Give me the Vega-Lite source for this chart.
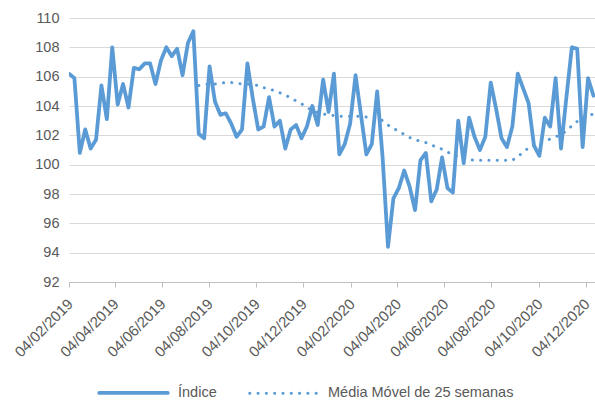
{
  "$schema": "https://vega.github.io/schema/vega-lite/v6.json",
  "autosize": {"type": "none"},
  "width": 526,
  "height": 264,
  "padding": {"left": 69, "top": 18, "right": 0, "bottom": 120},
  "background": "white",
  "config": {
    "font": "Liberation Sans",
    "view": {"stroke": null}
  },
  "data": {"values": [
    {"d":"2019-02-04","s":"Índice","v":106.2},
    {"d":"2019-02-11","s":"Índice","v":105.9},
    {"d":"2019-02-18","s":"Índice","v":100.8},
    {"d":"2019-02-25","s":"Índice","v":102.4},
    {"d":"2019-03-04","s":"Índice","v":101.1},
    {"d":"2019-03-11","s":"Índice","v":101.7},
    {"d":"2019-03-18","s":"Índice","v":105.4},
    {"d":"2019-03-25","s":"Índice","v":103.1},
    {"d":"2019-04-01","s":"Índice","v":108.0},
    {"d":"2019-04-08","s":"Índice","v":104.1},
    {"d":"2019-04-15","s":"Índice","v":105.5},
    {"d":"2019-04-22","s":"Índice","v":103.9},
    {"d":"2019-04-29","s":"Índice","v":106.6},
    {"d":"2019-05-06","s":"Índice","v":106.5},
    {"d":"2019-05-13","s":"Índice","v":106.9},
    {"d":"2019-05-20","s":"Índice","v":106.9},
    {"d":"2019-05-27","s":"Índice","v":105.5},
    {"d":"2019-06-03","s":"Índice","v":107.1},
    {"d":"2019-06-10","s":"Índice","v":108.0},
    {"d":"2019-06-17","s":"Índice","v":107.4},
    {"d":"2019-06-24","s":"Índice","v":107.9},
    {"d":"2019-07-01","s":"Índice","v":106.1},
    {"d":"2019-07-08","s":"Índice","v":108.3},
    {"d":"2019-07-15","s":"Índice","v":109.1},
    {"d":"2019-07-22","s":"Índice","v":102.1},
    {"d":"2019-07-29","s":"Índice","v":101.8},
    {"d":"2019-08-05","s":"Índice","v":106.7},
    {"d":"2019-08-12","s":"Índice","v":104.3},
    {"d":"2019-08-19","s":"Índice","v":103.4},
    {"d":"2019-08-26","s":"Índice","v":103.5},
    {"d":"2019-09-02","s":"Índice","v":102.8},
    {"d":"2019-09-09","s":"Índice","v":101.9},
    {"d":"2019-09-16","s":"Índice","v":102.4},
    {"d":"2019-09-23","s":"Índice","v":106.9},
    {"d":"2019-09-30","s":"Índice","v":104.5},
    {"d":"2019-10-07","s":"Índice","v":102.4},
    {"d":"2019-10-14","s":"Índice","v":102.6},
    {"d":"2019-10-21","s":"Índice","v":104.6},
    {"d":"2019-10-28","s":"Índice","v":102.6},
    {"d":"2019-11-04","s":"Índice","v":103.0},
    {"d":"2019-11-11","s":"Índice","v":101.1},
    {"d":"2019-11-18","s":"Índice","v":102.4},
    {"d":"2019-11-25","s":"Índice","v":102.7},
    {"d":"2019-12-02","s":"Índice","v":101.8},
    {"d":"2019-12-09","s":"Índice","v":102.6},
    {"d":"2019-12-16","s":"Índice","v":104.0},
    {"d":"2019-12-23","s":"Índice","v":102.7},
    {"d":"2019-12-30","s":"Índice","v":105.8},
    {"d":"2020-01-06","s":"Índice","v":103.6},
    {"d":"2020-01-13","s":"Índice","v":106.2},
    {"d":"2020-01-20","s":"Índice","v":100.7},
    {"d":"2020-01-27","s":"Índice","v":101.4},
    {"d":"2020-02-03","s":"Índice","v":102.8},
    {"d":"2020-02-10","s":"Índice","v":106.1},
    {"d":"2020-02-17","s":"Índice","v":103.4},
    {"d":"2020-02-24","s":"Índice","v":100.7},
    {"d":"2020-03-02","s":"Índice","v":101.4},
    {"d":"2020-03-09","s":"Índice","v":105.0},
    {"d":"2020-03-16","s":"Índice","v":100.5},
    {"d":"2020-03-23","s":"Índice","v":94.4},
    {"d":"2020-03-30","s":"Índice","v":97.7},
    {"d":"2020-04-06","s":"Índice","v":98.4},
    {"d":"2020-04-13","s":"Índice","v":99.6},
    {"d":"2020-04-20","s":"Índice","v":98.5},
    {"d":"2020-04-27","s":"Índice","v":96.9},
    {"d":"2020-05-04","s":"Índice","v":100.3},
    {"d":"2020-05-11","s":"Índice","v":100.8},
    {"d":"2020-05-18","s":"Índice","v":97.5},
    {"d":"2020-05-25","s":"Índice","v":98.3},
    {"d":"2020-06-01","s":"Índice","v":100.5},
    {"d":"2020-06-08","s":"Índice","v":98.4},
    {"d":"2020-06-15","s":"Índice","v":98.1},
    {"d":"2020-06-22","s":"Índice","v":103.0},
    {"d":"2020-06-29","s":"Índice","v":100.1},
    {"d":"2020-07-06","s":"Índice","v":103.2},
    {"d":"2020-07-13","s":"Índice","v":101.9},
    {"d":"2020-07-20","s":"Índice","v":101.0},
    {"d":"2020-07-27","s":"Índice","v":101.9},
    {"d":"2020-08-03","s":"Índice","v":105.6},
    {"d":"2020-08-10","s":"Índice","v":103.8},
    {"d":"2020-08-17","s":"Índice","v":101.8},
    {"d":"2020-08-24","s":"Índice","v":101.2},
    {"d":"2020-08-31","s":"Índice","v":102.6},
    {"d":"2020-09-07","s":"Índice","v":106.2},
    {"d":"2020-09-14","s":"Índice","v":105.2},
    {"d":"2020-09-21","s":"Índice","v":104.2},
    {"d":"2020-09-28","s":"Índice","v":101.3},
    {"d":"2020-10-05","s":"Índice","v":100.6},
    {"d":"2020-10-12","s":"Índice","v":103.2},
    {"d":"2020-10-19","s":"Índice","v":102.6},
    {"d":"2020-10-26","s":"Índice","v":105.9},
    {"d":"2020-11-02","s":"Índice","v":101.1},
    {"d":"2020-11-09","s":"Índice","v":104.6},
    {"d":"2020-11-16","s":"Índice","v":108.0},
    {"d":"2020-11-23","s":"Índice","v":107.9},
    {"d":"2020-11-30","s":"Índice","v":101.2},
    {"d":"2020-12-07","s":"Índice","v":105.9},
    {"d":"2020-12-14","s":"Índice","v":104.7},
    {"d":"2019-07-22","s":"Média Móvel de 25 semanas","v":105.4},
    {"d":"2019-07-29","s":"Média Móvel de 25 semanas","v":105.45},
    {"d":"2019-08-05","s":"Média Móvel de 25 semanas","v":105.5},
    {"d":"2019-08-12","s":"Média Móvel de 25 semanas","v":105.5},
    {"d":"2019-08-19","s":"Média Móvel de 25 semanas","v":105.55},
    {"d":"2019-08-26","s":"Média Móvel de 25 semanas","v":105.6},
    {"d":"2019-09-02","s":"Média Móvel de 25 semanas","v":105.6},
    {"d":"2019-09-09","s":"Média Móvel de 25 semanas","v":105.55},
    {"d":"2019-09-16","s":"Média Móvel de 25 semanas","v":105.5},
    {"d":"2019-09-23","s":"Média Móvel de 25 semanas","v":105.5},
    {"d":"2019-09-30","s":"Média Móvel de 25 semanas","v":105.45},
    {"d":"2019-10-07","s":"Média Móvel de 25 semanas","v":105.4},
    {"d":"2019-10-14","s":"Média Móvel de 25 semanas","v":105.25},
    {"d":"2019-10-21","s":"Média Móvel de 25 semanas","v":105.15},
    {"d":"2019-10-28","s":"Média Móvel de 25 semanas","v":105.05},
    {"d":"2019-11-04","s":"Média Móvel de 25 semanas","v":104.9},
    {"d":"2019-11-11","s":"Média Móvel de 25 semanas","v":104.75},
    {"d":"2019-11-18","s":"Média Móvel de 25 semanas","v":104.55},
    {"d":"2019-11-25","s":"Média Móvel de 25 semanas","v":104.35},
    {"d":"2019-12-02","s":"Média Móvel de 25 semanas","v":104.15},
    {"d":"2019-12-09","s":"Média Móvel de 25 semanas","v":103.9},
    {"d":"2019-12-16","s":"Média Móvel de 25 semanas","v":103.7},
    {"d":"2019-12-23","s":"Média Móvel de 25 semanas","v":103.55},
    {"d":"2019-12-30","s":"Média Móvel de 25 semanas","v":103.45},
    {"d":"2020-01-06","s":"Média Móvel de 25 semanas","v":103.4},
    {"d":"2020-01-13","s":"Média Móvel de 25 semanas","v":103.35},
    {"d":"2020-01-20","s":"Média Móvel de 25 semanas","v":103.3},
    {"d":"2020-01-27","s":"Média Móvel de 25 semanas","v":103.3},
    {"d":"2020-02-03","s":"Média Móvel de 25 semanas","v":103.3},
    {"d":"2020-02-10","s":"Média Móvel de 25 semanas","v":103.3},
    {"d":"2020-02-17","s":"Média Móvel de 25 semanas","v":103.3},
    {"d":"2020-02-24","s":"Média Móvel de 25 semanas","v":103.25},
    {"d":"2020-03-02","s":"Média Móvel de 25 semanas","v":103.2},
    {"d":"2020-03-09","s":"Média Móvel de 25 semanas","v":103.2},
    {"d":"2020-03-16","s":"Média Móvel de 25 semanas","v":103.0},
    {"d":"2020-03-23","s":"Média Móvel de 25 semanas","v":102.7},
    {"d":"2020-03-30","s":"Média Móvel de 25 semanas","v":102.45},
    {"d":"2020-04-06","s":"Média Móvel de 25 semanas","v":102.3},
    {"d":"2020-04-13","s":"Média Móvel de 25 semanas","v":102.05},
    {"d":"2020-04-20","s":"Média Móvel de 25 semanas","v":101.85},
    {"d":"2020-04-27","s":"Média Móvel de 25 semanas","v":101.7},
    {"d":"2020-05-04","s":"Média Móvel de 25 semanas","v":101.6},
    {"d":"2020-05-11","s":"Média Móvel de 25 semanas","v":101.5},
    {"d":"2020-05-18","s":"Média Móvel de 25 semanas","v":101.35},
    {"d":"2020-05-25","s":"Média Móvel de 25 semanas","v":101.2},
    {"d":"2020-06-01","s":"Média Móvel de 25 semanas","v":101.05},
    {"d":"2020-06-08","s":"Média Móvel de 25 semanas","v":100.85},
    {"d":"2020-06-15","s":"Média Móvel de 25 semanas","v":100.7},
    {"d":"2020-06-22","s":"Média Móvel de 25 semanas","v":100.55},
    {"d":"2020-06-29","s":"Média Móvel de 25 semanas","v":100.45},
    {"d":"2020-07-06","s":"Média Móvel de 25 semanas","v":100.35},
    {"d":"2020-07-13","s":"Média Móvel de 25 semanas","v":100.3},
    {"d":"2020-07-20","s":"Média Móvel de 25 semanas","v":100.3},
    {"d":"2020-07-27","s":"Média Móvel de 25 semanas","v":100.3},
    {"d":"2020-08-03","s":"Média Móvel de 25 semanas","v":100.3},
    {"d":"2020-08-10","s":"Média Móvel de 25 semanas","v":100.3},
    {"d":"2020-08-17","s":"Média Móvel de 25 semanas","v":100.3},
    {"d":"2020-08-24","s":"Média Móvel de 25 semanas","v":100.3},
    {"d":"2020-08-31","s":"Média Móvel de 25 semanas","v":100.3},
    {"d":"2020-09-07","s":"Média Móvel de 25 semanas","v":100.55},
    {"d":"2020-09-14","s":"Média Móvel de 25 semanas","v":100.85},
    {"d":"2020-09-21","s":"Média Móvel de 25 semanas","v":101.15},
    {"d":"2020-09-28","s":"Média Móvel de 25 semanas","v":101.3},
    {"d":"2020-10-05","s":"Média Móvel de 25 semanas","v":101.5},
    {"d":"2020-10-12","s":"Média Móvel de 25 semanas","v":101.6},
    {"d":"2020-10-19","s":"Média Móvel de 25 semanas","v":101.75},
    {"d":"2020-10-26","s":"Média Móvel de 25 semanas","v":101.9},
    {"d":"2020-11-02","s":"Média Móvel de 25 semanas","v":102.05},
    {"d":"2020-11-09","s":"Média Móvel de 25 semanas","v":102.3},
    {"d":"2020-11-16","s":"Média Móvel de 25 semanas","v":102.65},
    {"d":"2020-11-23","s":"Média Móvel de 25 semanas","v":102.95},
    {"d":"2020-11-30","s":"Média Móvel de 25 semanas","v":103.2},
    {"d":"2020-12-07","s":"Média Móvel de 25 semanas","v":103.35},
    {"d":"2020-12-14","s":"Média Móvel de 25 semanas","v":103.45}
  ]},
  "mark": {"type": "line", "strokeCap": "round", "strokeJoin": "round", "clip": true},
  "encoding": {
    "x": {
      "field": "d", "type": "temporal",
      "scale": {"type": "utc", "domain": [{"year": 2019, "month": 2, "date": 4, "utc": true}, {"year": 2020, "month": 12, "date": 16, "utc": true}]},
      "axis": {
        "title": null, "grid": false, "format": "%d/%m/%Y",
        "values": [
          {"year": 2019, "month": 2, "date": 4, "utc": true},
          {"year": 2019, "month": 4, "date": 4, "utc": true},
          {"year": 2019, "month": 6, "date": 4, "utc": true},
          {"year": 2019, "month": 8, "date": 4, "utc": true},
          {"year": 2019, "month": 10, "date": 4, "utc": true},
          {"year": 2019, "month": 12, "date": 4, "utc": true},
          {"year": 2020, "month": 2, "date": 4, "utc": true},
          {"year": 2020, "month": 4, "date": 4, "utc": true},
          {"year": 2020, "month": 6, "date": 4, "utc": true},
          {"year": 2020, "month": 8, "date": 4, "utc": true},
          {"year": 2020, "month": 10, "date": 4, "utc": true},
          {"year": 2020, "month": 12, "date": 4, "utc": true}
        ],
        "labelAngle": -45, "labelFontSize": 15, "labelColor": "#595959",
        "labelFlush": false, "labelOverlap": false, "labelBound": false,
        "labelOffset": -4,
        "domainColor": "#bfbfbf", "tickColor": "#bfbfbf", "tickSize": 5, "labelPadding": 9
      }
    },
    "y": {
      "field": "v", "type": "quantitative",
      "scale": {"domain": [92, 110], "nice": false, "zero": false},
      "axis": {
        "title": null, "values": [92, 94, 96, 98, 100, 102, 104, 106, 108, 110],
        "ticks": false, "domain": false, "gridColor": "#d9d9d9", "gridWidth": 1,
        "labelFontSize": 14.5, "labelColor": "#595959", "labelPadding": 10
      }
    },
    "color": {
      "field": "s", "type": "nominal",
      "scale": {"domain": ["Índice", "Média Móvel de 25 semanas"], "range": ["#5B9BD5", "#5B9BD5"]},
      "legend": {
        "title": null, "orient": "none", "direction": "horizontal",
        "legendX": 28, "legendY": 338,
        "symbolType": "stroke", "symbolSize": 4700,
        "labelFontSize": 14.5, "labelColor": "#595959", "labelOffset": 8, "labelLimit": 400,
        "columnPadding": 26,
        "encode": {"symbols": {"update": {"strokeCap": {"value": "round"}}}}
      }
    },
    "strokeDash": {
      "field": "s", "type": "nominal",
      "scale": {"domain": ["Índice", "Média Móvel de 25 semanas"], "range": [[1, 0], [0.1, 8.2]]}
    },
    "strokeWidth": {
      "field": "s", "type": "nominal",
      "scale": {"domain": ["Índice", "Média Móvel de 25 semanas"], "range": [3.8, 3]}
    }
  }
}
